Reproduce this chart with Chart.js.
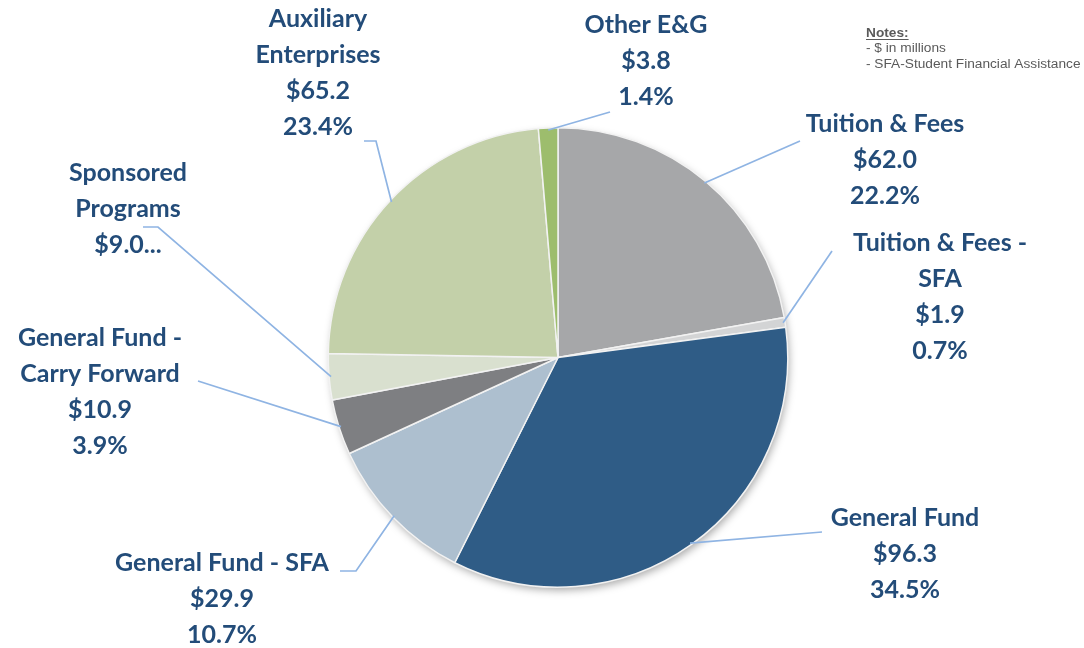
<!DOCTYPE html>
<html>
<head>
<meta charset="utf-8">
<script src="https://cdn.jsdelivr.net/npm/chart.js@4.4.1/dist/chart.umd.min.js"></script>
<style>
  html, body { margin: 0; padding: 0; background: #fff; }
  #wrap { width: 1084px; height: 648px; position: relative; }
</style>
</head>
<body>
<div id="wrap"><canvas id="pie" width="1084" height="648"></canvas></div>
<script>
// data, clockwise from 12 o'clock
const categories = ['Tuition & Fees', 'Tuition & Fees - SFA', 'General Fund', 'General Fund - SFA',
  'General Fund - Carry Forward', 'Sponsored Programs', 'Auxiliary Enterprises', 'Other E&G'];
const amounts = [62.0, 1.9, 96.3, 29.9, 10.9, 9.0, 65.2, 3.8];
const percentLabels = ['22.2%', '0.7%', '34.5%', '10.7%', '3.9%', '', '23.4%', '1.4%'];
const valueLabels = ['$62.0', '$1.9', '$96.3', '$29.9', '$10.9', '$9.0...', '$65.2', '$3.8'];
const nameLines = [
  ['Tuition & Fees'], ['Tuition & Fees -', 'SFA'], ['General Fund'], ['General Fund - SFA'],
  ['General Fund -', 'Carry Forward'], ['Sponsored', 'Programs'], ['Auxiliary', 'Enterprises'], ['Other E&G']
];
const sliceColors = ['#a6a7a9', '#d3d4d5', '#2f5c86', '#adbfcf', '#7e7f82', '#d9e0cf', '#c3d0a9', '#9dbd6d'];

// label layout: text centre x, first line middle y, leader end point, optional elbow
const labelPos = [
  { x: 885, y: 124, end: [800, 141] },
  { x: 940, y: 243, end: [832, 251] },
  { x: 905, y: 518, end: [822, 532] },
  { x: 222, y: 563, end: [340, 571], elbow: [356, 571] },
  { x: 100, y: 338, end: [198, 381] },
  { x: 128, y: 173, end: [143, 227], elbow: [158, 227] },
  { x: 318, y: 19, end: [364, 141], elbow: [376, 141] },
  { x: 646, y: 25, end: [610, 112] }
];

const TEXT_COLOR = '#234c79';
const LINE_COLOR = '#8fb4e3';
const LINE_H = 36;

const shadowPlugin = {
  id: 'pieShadow',
  beforeDatasetsDraw(chart) {
    const arc = chart.getDatasetMeta(0).data[0];
    if (!arc) return;
    const ctx = chart.ctx;
    ctx.save();
    ctx.shadowColor = 'rgba(0,0,0,0.35)';
    ctx.shadowBlur = 8;
    ctx.shadowOffsetX = 2;
    ctx.shadowOffsetY = 4;
    ctx.fillStyle = '#fff';
    ctx.beginPath();
    ctx.arc(arc.x, arc.y, arc.outerRadius - 1, 0, Math.PI * 2);
    ctx.fill();
    ctx.restore();
  }
};

const labelPlugin = {
  id: 'calloutLabels',
  afterDatasetsDraw(chart) {
    const ctx = chart.ctx;
    const meta = chart.getDatasetMeta(0);
    ctx.save();
    meta.data.forEach((arc, i) => {
      const p = labelPos[i];
      const mid = (arc.startAngle + arc.endAngle) / 2;
      const r = arc.outerRadius - 2;
      const sx = arc.x + Math.cos(mid) * r;
      const sy = arc.y + Math.sin(mid) * r;

      ctx.strokeStyle = LINE_COLOR;
      ctx.lineWidth = 1.7;
      ctx.beginPath();
      ctx.moveTo(sx, sy);
      if (p.elbow) ctx.lineTo(p.elbow[0], p.elbow[1]);
      ctx.lineTo(p.end[0], p.end[1]);
      ctx.stroke();

      const lines = nameLines[i].concat([valueLabels[i]]);
      if (percentLabels[i]) lines.push(percentLabels[i]);
      ctx.fillStyle = TEXT_COLOR;
      ctx.font = 'bold 25px Lato, "Open Sans", sans-serif';
      ctx.textAlign = 'center';
      ctx.textBaseline = 'middle';
      lines.forEach((t, k) => ctx.fillText(t, p.x, p.y + k * LINE_H));
    });

    // notes block
    ctx.fillStyle = '#5a5a5a';
    ctx.textAlign = 'left';
    ctx.textBaseline = 'alphabetic';
    ctx.font = 'bold 13.7px "Liberation Sans", Arial, sans-serif';
    ctx.fillText('Notes:', 866, 37);
    const w = ctx.measureText('Notes:').width;
    ctx.fillRect(866, 39, w, 1);
    ctx.font = '13.7px "Liberation Sans", Arial, sans-serif';
    ctx.fillText('- $ in millions', 866, 52);
    ctx.fillText('- SFA-Student Financial Assistance', 866, 68);
    ctx.restore();
  }
};

new Chart(document.getElementById('pie'), {
  type: 'pie',
  data: {
    labels: categories,
    datasets: [{
      data: amounts,
      backgroundColor: sliceColors,
      borderColor: '#f2f2f2',
      borderWidth: 1.5
    }]
  },
  options: {
    responsive: false,
    animation: false,
    layout: { padding: { top: 127, bottom: 60, left: 327, right: 295 } },
    plugins: {
      legend: { display: false },
      tooltip: { enabled: false }
    }
  },
  plugins: [shadowPlugin, labelPlugin]
});
</script>
</body>
</html>
